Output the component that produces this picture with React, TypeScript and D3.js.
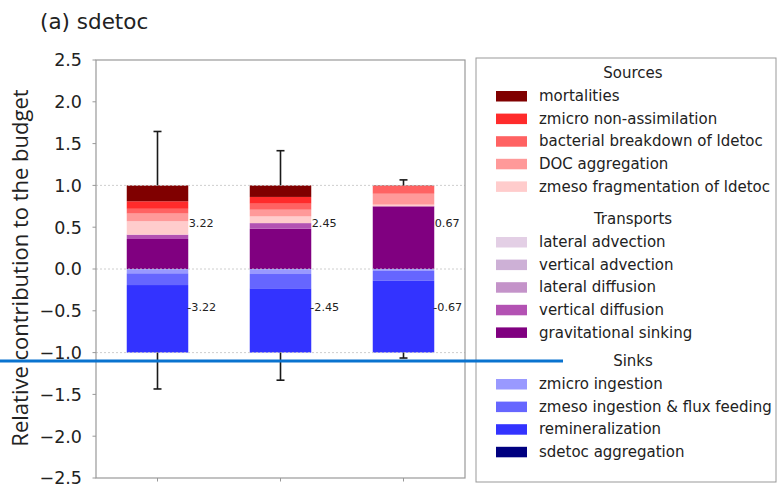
import React from "react";
import * as d3 from "d3";

// Totals per run (labels) and error bars
const totals = [3.22, 2.45, 0.67];
const errUp = [0.645, 0.415, 0.066];
const errDown = [0.435, 0.33, 0.065];

// Sources (relative contribution, positive)
const mortalities = [0.19, 0.138, 0.005];
const zmicroNonAssimilation = [0.09, 0.081, 0.01];
const bacterialBreakdown = [0.057, 0.072, 0.085];
const docAggregation = [0.092, 0.08, 0.13];
const zmesoFragmentation = [0.16, 0.08, 0.02];

// Transports (positive here)
const lateralAdvection = [0, 0, 0];
const verticalAdvection = [0, 0, 0];
const lateralDiffusion = [0, 0, 0];
const verticalDiffusion = [0.052, 0.068, 0];
const gravitationalSinking = [0.359, 0.481, 0.75];

// Sinks (negative)
const zmicroIngestion = [0.052, 0.06, 0.02];
const zmesoIngestion = [0.14, 0.172, 0.12];
const remineralization = [0.808, 0.768, 0.86];
const sdetocAggregation = [0, 0, 0];

const yTicks = [2.5, 2.0, 1.5, 1.0, 0.5, 0.0, -0.5, -1.0, -1.5, -2.0, -2.5];
const refLines = [1, 0, -1];

type Comp = { name: string; color: string; values: number[] };

const sources: Comp[] = [
  { name: "mortalities", color: "#800000", values: mortalities },
  { name: "zmicro non-assimilation", color: "#ff2b2b", values: zmicroNonAssimilation },
  { name: "bacterial breakdown of ldetoc", color: "#ff6262", values: bacterialBreakdown },
  { name: "DOC aggregation", color: "#ff9999", values: docAggregation },
  { name: "zmeso fragmentation of ldetoc", color: "#ffcccc", values: zmesoFragmentation },
];
const transports: Comp[] = [
  { name: "lateral advection", color: "#e3cfe5", values: lateralAdvection },
  { name: "vertical advection", color: "#cdb0d6", values: verticalAdvection },
  { name: "lateral diffusion", color: "#c493c9", values: lateralDiffusion },
  { name: "vertical diffusion", color: "#b352b3", values: verticalDiffusion },
  { name: "gravitational sinking", color: "#800080", values: gravitationalSinking },
];
const sinks: Comp[] = [
  { name: "zmicro ingestion", color: "#9999ff", values: zmicroIngestion },
  { name: "zmeso ingestion & flux feeding", color: "#6666ff", values: zmesoIngestion },
  { name: "remineralization", color: "#3333ff", values: remineralization },
  { name: "sdetoc aggregation", color: "#000080", values: sdetocAggregation },
];

const groups = [
  { title: "Sources", items: sources, headerY: 73 },
  { title: "Transports", items: transports, headerY: 219 },
  { title: "Sinks", items: sinks, headerY: 361 },
];

const FONT = "DejaVu Sans, sans-serif";

export default function App() {
  const W = 779;
  const H = 489;
  const x = d3.scaleLinear().domain([-0.5, 2.5]).range([96, 465]);
  const y = d3.scaleLinear().domain([-2.5, 2.5]).range([478, 60]);
  const barW = x(0.5) - x(0);
  const runs = d3.range(totals.length);

  // positive stack: transports from zero upward (reverse legend order), then sources
  const posOrder = [...transports].reverse().concat([...sources].reverse());
  const negOrder = [...sinks];

  const rects: JSX.Element[] = [];
  runs.forEach((i) => {
    let acc = 0;
    posOrder.forEach((c, k) => {
      const v = c.values[i];
      if (v > 0) {
        rects.push(
          <rect
            key={`p${i}-${k}`}
            x={x(i) - barW / 2}
            y={y(acc + v)}
            width={barW}
            height={y(acc) - y(acc + v)}
            fill={c.color}
          />
        );
      }
      acc += v;
    });
    let nacc = 0;
    negOrder.forEach((c, k) => {
      const v = c.values[i];
      if (v > 0) {
        rects.push(
          <rect
            key={`n${i}-${k}`}
            x={x(i) - barW / 2}
            y={y(nacc)}
            width={barW}
            height={y(nacc - v) - y(nacc)}
            fill={c.color}
          />
        );
      }
      nacc -= v;
    });
  });

  const rowStep = 22.6;
  const legendX = 476;

  return (
    <svg width={W} height={H} style={{ position: "absolute", left: 0, top: 0, background: "#fff" }}>
      <text x={40} y={29} fontFamily={FONT} fontSize={21.5} fill="#222">
        (a) sdetoc
      </text>

      {/* y axis label */}
      <text
        transform={`translate(28,268) rotate(-90)`}
        textAnchor="middle"
        fontFamily="Open Sans, Noto Sans, sans-serif"
        fontSize={22}
        fill="#222"
      >
        Relative contribution to the budget
      </text>

      {rects}

      {/* reference lines */}
      {refLines.map((v) => (
        <line
          key={v}
          x1={x(-0.5)}
          x2={x(2.5)}
          y1={y(v)}
          y2={y(v)}
          stroke="#c8c8c8"
          strokeWidth={0.9}
          strokeDasharray="2,2"
        />
      ))}

      {/* error bars */}
      {runs.map((i) => {
        const cx = x(i);
        const top = y(1 + errUp[i]);
        const bot = y(-1 - errDown[i]);
        return (
          <g key={`e${i}`} stroke="#1a1a1a" strokeWidth={1.6}>
            <line x1={cx} x2={cx} y1={y(1)} y2={top} />
            <line x1={cx - 4} x2={cx + 4} y1={top} y2={top} />
            <line x1={cx} x2={cx} y1={y(-1)} y2={bot} />
            <line x1={cx - 4} x2={cx + 4} y1={bot} y2={bot} />
          </g>
        );
      })}

      {/* totals */}
      {runs.map((i) => (
        <g key={`t${i}`} fontFamily={FONT} fontSize={11.2} fill="#222">
          <text x={x(i) + barW / 2 + 0.5} y={y(0.5)}>
            {totals[i].toFixed(2)}
          </text>
          <text x={x(i) + barW / 2 - 1} y={y(-0.5)}>
            {"-" + totals[i].toFixed(2)}
          </text>
        </g>
      ))}

      {/* axes frame */}
      <rect
        x={x(-0.5)}
        y={y(2.5)}
        width={x(2.5) - x(-0.5)}
        height={y(-2.5) - y(2.5)}
        fill="none"
        stroke="#999"
        strokeWidth={1.2}
      />
      {yTicks.map((t) => (
        <g key={`yt${t}`}>
          <line x1={x(-0.5) - 3.5} x2={x(-0.5)} y1={y(t)} y2={y(t)} stroke="#999" strokeWidth={1} />
          <text
            x={x(-0.5) - 14}
            y={y(t)}
            dy="0.36em"
            textAnchor="end"
            fontFamily={FONT}
            fontSize={17.5}
            fill="#222"
          >
            {t < 0 ? "\u2212" + Math.abs(t).toFixed(1) : t.toFixed(1)}
          </text>
        </g>
      ))}
      {runs.map((i) => (
        <line key={`xt${i}`} x1={x(i)} x2={x(i)} y1={y(-2.5)} y2={y(-2.5) + 3.5} stroke="#999" strokeWidth={1} />
      ))}

      {/* legend */}
      <rect x={legendX} y={58} width={300} height={424} fill="#fff" stroke="#999" strokeWidth={1} />
      {groups.map((g) => (
        <g key={g.title} fontFamily={FONT} fontSize={15} fill="#222">
          <text x={633} y={g.headerY} dy="0.35em" textAnchor="middle">
            {g.title}
          </text>
          {g.items.map((c, k) => {
            const cy = g.headerY + 23 + k * rowStep;
            return (
              <g key={c.name}>
                <rect x={496} y={cy - 5} width={31} height={10.5} fill={c.color} />
                <text x={539} y={cy} dy="0.35em">
                  {c.name}
                </text>
              </g>
            );
          })}
        </g>
      ))}

      {/* highlight rule */}
      <line x1={0} x2={563} y1={361} y2={361} stroke="#0a73cf" strokeWidth={3} />
    </svg>
  );
}
